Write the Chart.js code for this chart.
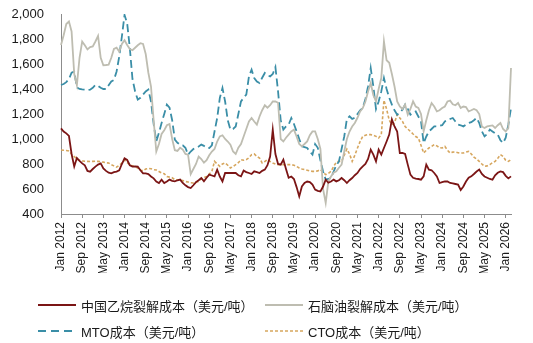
<!DOCTYPE html>
<html>
<head>
<meta charset="utf-8">
<style>
html, body { margin: 0; padding: 0; background: #fff; }
#wrap { position: relative; width: 533px; height: 343px; }
#legend { position: absolute; left: 0; top: 0; width: 533px; height: 343px; pointer-events: none;
  font: 13px "Liberation Sans", Arial, "Noto Sans CJK SC", sans-serif; color: #1a1a1a; }
.item { position: absolute; height: 16px; display: flex; align-items: center; white-space: nowrap; }
.item svg { margin-right: 5px; }
</style>
<script src="https://cdn.jsdelivr.net/npm/chart.js@4/dist/chart.umd.min.js"></script>
</head>
<body>
<div id="wrap">
  <canvas id="c" width="533" height="343" style="width:533px;height:343px"></canvas>
  <div id="legend"></div>
</div>
<script>
// monthly, Jan 2012 .. Mar 2026
var monthNames = ["Jan","Feb","Mar","Apr","May","Jun","Jul","Aug","Sep","Oct","Nov","Dec"];
var startYear = 2012;
var nMonths = 171;
var labels = [];
for (var i = 0; i < nMonths; i++) {
  labels.push(monthNames[i % 12] + " " + (startYear + Math.floor(i / 12)));
}

var seriesNames = ["中国乙烷裂解成本（美元/吨）", "石脑油裂解成本（美元/吨）", "MTO成本（美元/吨）", "CTO成本（美元/吨）"];

var ethane = [
  1085, 1060, 1045, 1025, 880, 780, 848, 825, 805, 790, 745, 739,
  760, 779, 795, 805, 765, 745, 730, 725, 735, 739, 750, 800,
  845, 832, 790, 779, 780, 779, 750, 725, 725, 720, 700, 685,
  660, 648, 675, 648, 660, 675, 665, 661, 670, 675, 648, 629,
  615, 608, 630, 655, 670, 688, 661, 690, 715, 708, 701, 755,
  700, 661, 728, 728, 728, 728, 728, 710, 701, 747, 735, 728,
  720, 741, 735, 728, 745, 755, 790, 860, 1075, 880, 800, 795,
  835, 760, 690, 700, 680, 615, 541, 620, 648, 660, 655, 635,
  595, 585, 581, 620, 675, 650, 660, 675, 661, 670, 688, 670,
  648, 670, 688, 710, 728, 760, 781, 800, 840, 915, 875, 821,
  915, 875, 928, 980, 1035, 1157, 1100, 1060, 888, 888, 880, 795,
  715, 690, 683, 680, 675, 701, 795, 755, 750, 728, 700, 648,
  655, 661, 660, 648, 645, 640, 635, 592, 620, 660, 690, 701,
  720, 740, 755, 720, 700, 690, 680, 675, 710, 730, 741, 735,
  705, 685, 701
];

var naphtha = [
  1752, 1830, 1920, 1940, 1860, 1520, 1430, 1650, 1779, 1750, 1717, 1735,
  1740, 1780, 1825, 1650, 1590, 1592, 1595, 1650, 1720, 1730, 1700, 1760,
  1790, 1752, 1720, 1710, 1730, 1750, 1766, 1760, 1680, 1530, 1420, 1150,
  900, 960, 1040, 1070, 1110, 1120, 1000, 910, 905, 930, 915, 880,
  875, 720, 760, 800, 860, 840, 810, 830, 870, 900, 920, 980,
  1021, 1030, 1000, 980, 955, 900, 880, 930, 960, 1020, 1080, 1141,
  1168, 1140, 1115, 1180, 1230, 1270, 1250, 1270, 1300, 1301, 1290, 1000,
  980, 1010, 1035, 1060, 1075, 1020, 960, 941, 960, 981, 1030, 1061,
  1061, 1000, 920, 600, 488, 661, 700, 730, 741, 770, 795, 900,
  1000, 1060, 1100, 1128, 1170, 1220, 1248, 1300, 1380, 1448, 1350, 1301,
  1400, 1488, 1781, 1630, 1610, 1520, 1420, 1300, 1261, 1240, 1275, 1195,
  1240, 1301, 1260, 1248, 1200, 1061, 1150, 1230, 1288, 1260, 1221, 1230,
  1248, 1260, 1300, 1307, 1278, 1270, 1288, 1248, 1260, 1255, 1221, 1230,
  1240, 1230, 1200, 1100, 1088, 1101, 1105, 1109, 1088, 1110, 1128, 1080,
  1061, 1088, 1568
];

var mto = [
  1432, 1440, 1455, 1480, 1530, 1539, 1413, 1400, 1397, 1395, 1392, 1395,
  1410, 1432, 1425, 1410, 1400, 1400, 1430, 1460, 1472, 1540, 1660, 1820,
  1992, 1925, 1728, 1480, 1380, 1315, 1330, 1355, 1380, 1395, 1300, 1120,
  981, 1050, 1128, 1200, 1275, 1250, 1150, 995, 970, 955, 950, 930,
  875, 900, 920, 930, 940, 955, 945, 930, 928, 950, 1060, 1168,
  1328, 1408, 1300, 1150, 1075, 1080, 1100, 1200, 1301, 1330, 1355, 1500,
  1555, 1488, 1460, 1448, 1490, 1528, 1510, 1501, 1520, 1575, 1380, 1150,
  1075, 1100, 1115, 1168, 1120, 1061, 1000, 941, 935, 928, 900, 875,
  960, 930, 830, 740, 675, 680, 690, 740, 790, 820, 920, 1020,
  1160, 1181, 1160, 1170, 1200, 1230, 1248, 1320, 1420, 1568, 1420, 1240,
  1300, 1381, 1488, 1400, 1330, 1275, 1230, 1195, 1210, 1235, 1275, 1240,
  1195, 1210, 1220, 1180, 1141, 968, 1020, 1061, 1080, 1101, 1100, 1105,
  1110, 1141, 1150, 1160, 1168, 1140, 1115, 1110, 1101, 1115, 1128, 1135,
  1150, 1168, 1128, 1061, 1021, 1040, 1075, 1060, 1045, 1035, 990, 968,
  1010, 1115, 1248
];

var cto = [
  912, 910, 908, 905, 880, 860, 838, 830, 825, 822, 821, 820,
  821, 822, 821, 818, 815, 810, 808, 795, 785, 775, 790, 808,
  832, 810, 795, 785, 779, 768, 752, 745, 760, 765, 762, 755,
  752, 740, 728, 722, 700, 695, 690, 675, 672, 670, 667, 660,
  656, 650, 648, 655, 661, 680, 690, 701, 720, 741, 821, 800,
  781, 800, 808, 790, 768, 780, 795, 810, 835, 830, 835, 850,
  875, 880, 860, 848, 808, 820, 835, 820, 808, 800, 795, 795,
  795, 795, 795, 795, 790, 780, 768, 760, 755, 750, 745, 741,
  741, 745, 755, 735, 715, 725, 741, 780, 815, 821, 821, 870,
  920, 880, 821, 870, 928, 980, 1021, 1030, 1035, 1035, 1030, 1021,
  1008, 1035, 1310, 1240, 1150, 1115, 1130, 1195, 1168, 1141, 1100, 1080,
  1061, 1040, 1020, 1008, 950, 888, 910, 928, 940, 955, 945, 930,
  928, 941, 910, 888, 895, 896, 890, 888, 888, 895, 901, 880,
  855, 840, 821, 800, 781, 785, 795, 810, 821, 845, 875, 861,
  830, 821, 835
];

var fontFamily = '"Liberation Sans", Arial, "Noto Sans CJK SC", sans-serif';
var axisColor = "#8c8c8c";

var datasets = [
  { label: seriesNames[0], data: ethane, borderColor: "#7b1515", borderWidth: 1.8, borderDash: [] },
  { label: seriesNames[1], data: naphtha, borderColor: "#bebdb1", borderWidth: 1.8, borderDash: [] },
  { label: seriesNames[2], data: mto, borderColor: "#3a8ea7", borderWidth: 1.8, borderDash: [8, 4] },
  { label: seriesNames[3], data: cto, borderColor: "#d6a65e", borderWidth: 1.6, borderDash: [3, 2] }
];
datasets.forEach(function (d) { d.fill = false; d.pointRadius = 0; d.tension = 0; });

var chart = new Chart(document.getElementById("c"), {
  type: "line",
  data: { labels: labels, datasets: datasets },
  options: {
    responsive: false,
    animation: false,
    layout: { padding: { left: 10, right: 22, top: 14, bottom: 70 } },
    plugins: { legend: { display: false }, tooltip: { enabled: false } },
    scales: {
      x: {
        afterFit: function (s) { s.height = 59; },
        grid: { display: true, drawOnChartArea: false, drawTicks: true, tickLength: 4, color: axisColor },
        border: { display: true, color: axisColor, width: 1 },
        ticks: {
          autoSkip: false, maxRotation: 90, minRotation: 90, padding: 4,
          color: "#1a1a1a", font: { size: 12, family: fontFamily },
          callback: function (v, i) { return i % 8 === 0 ? labels[i] : null; }
        }
      },
      y: {
        min: 400, max: 2000,
        afterFit: function (s) { s.width = 51; s.paddingTop = 0; s.paddingBottom = 0; },
        grid: { display: false, drawTicks: false },
        border: { display: true, color: axisColor, width: 1 },
        ticks: {
          stepSize: 200, padding: 17,
          color: "#1a1a1a", font: { size: 13, family: fontFamily },
          callback: function (v) { return v.toLocaleString("en-US"); }
        }
      }
    }
  }
});

// legend in two columns under the chart
var legend = document.getElementById("legend");
var spots = [[38, 297], [265, 297], [38, 323], [265, 323]];
datasets.forEach(function (d, i) {
  var div = document.createElement("div");
  div.className = "item";
  div.style.left = spots[i][0] + "px";
  div.style.top = spots[i][1] + "px";
  var dash = d.borderDash.length ? ' stroke-dasharray="' + (i === 2 ? "8,5" : "3,2") + '"' : "";
  div.innerHTML = '<svg width="38" height="4"><line x1="0" y1="2" x2="38" y2="2" stroke="' + d.borderColor +
    '" stroke-width="' + d.borderWidth + '"' + dash + '/></svg><span>' + d.label + '</span>';
  legend.appendChild(div);
});
</script>
</body>
</html>
